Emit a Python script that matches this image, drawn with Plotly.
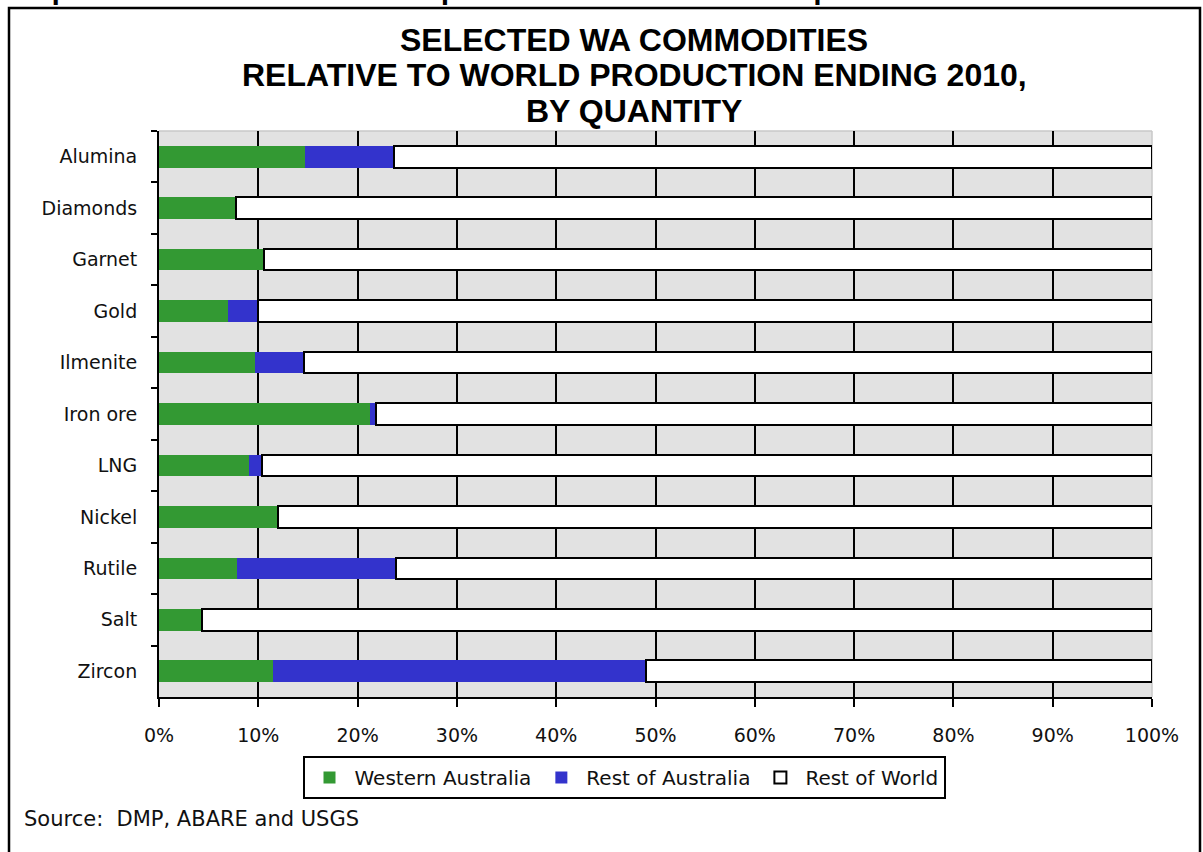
import plotly.graph_objects as go

categories = ["Alumina", "Diamonds", "Garnet", "Gold", "Ilmenite", "Iron ore",
              "LNG", "Nickel", "Rutile", "Salt", "Zircon"]
western_australia = [14.7, 7.8, 10.6, 6.9, 9.7, 21.2, 9.1, 12.0, 7.9, 4.3, 11.5]
rest_of_australia = [9.0, 0.0, 0.0, 3.1, 4.9, 0.7, 1.3, 0.0, 16.0, 0.0, 37.5]
rest_of_world = [round(100 - a - b, 1) for a, b in zip(western_australia, rest_of_australia)]
x_ticks = [0, 10, 20, 30, 40, 50, 60, 70, 80, 90, 100]
x_tick_labels = [f"{v}%" for v in x_ticks]

title_lines = ["SELECTED WA COMMODITIES",
               "RELATIVE TO WORLD PRODUCTION ENDING 2010,",
               "BY QUANTITY"]
header_text = "Graph 2: Australian commodities production relative to world production"
source_text = "Source:&nbsp; DMP, ABARE and USGS"

W, H = 1203, 852
L, R, T, B = 159, 1152, 131, 697
pw, ph = R - L, B - T


def px_x(px):
    return (px - L) / pw


def px_y(py):
    return (B - py) / ph


fig = go.Figure()
fig.add_trace(go.Bar(y=categories, x=western_australia, orientation="h",
                     name="Western Australia", width=0.42,
                     marker=dict(color="#339933", line=dict(width=0))))
fig.add_trace(go.Bar(y=categories, x=rest_of_australia, orientation="h",
                     name="Rest of Australia", width=0.42,
                     marker=dict(color="#3333CC", line=dict(width=0))))
fig.add_trace(go.Bar(y=categories, x=rest_of_world, orientation="h",
                     name="Rest of World", width=0.42,
                     marker=dict(color="#FFFFFF", line=dict(color="#000000", width=2))))

title_font = "Liberation Sans, Arial, sans-serif"
font = "DejaVu Sans, Verdana, sans-serif"

annotations = []
for i, line in enumerate(title_lines):
    annotations.append(dict(text=f"<b>{line}</b>", x=px_x(634), y=px_y(40 + 35.5 * i),
                            xref="paper", yref="paper", showarrow=False,
                            xanchor="center", yanchor="middle",
                            font=dict(family=title_font, size=32, color="#000000")))
annotations.append(dict(text=f"<b>{header_text}</b>", x=px_x(4), y=px_y(-8),
                        xref="paper", yref="paper", showarrow=False,
                        xanchor="left", yanchor="middle",
                        font=dict(family=font, size=23, color="#000000")))
annotations.append(dict(text=source_text, x=px_x(22), y=px_y(819),
                        xref="paper", yref="paper", showarrow=False,
                        xanchor="left", yanchor="middle",
                        font=dict(family=font, size=21, color="#111111")))

shapes = [
    dict(type="rect", xref="paper", yref="paper",
         x0=px_x(9), x1=px_x(1200), y0=px_y(8), y1=px_y(900),
         line=dict(color="#000000", width=2.5), fillcolor="rgba(0,0,0,0)", layer="above"),
    dict(type="line", xref="paper", yref="paper", x0=0, x1=1, y0=1, y1=1,
         line=dict(color="#C8C8C8", width=1.5), layer="below"),
    dict(type="line", xref="paper", yref="paper", x0=1, x1=1, y0=0, y1=1,
         line=dict(color="#C8C8C8", width=1.5), layer="below"),
]

fig.update_layout(
    width=W, height=H,
    margin=dict(l=L, r=W - R, t=T, b=H - B, pad=0),
    barmode="stack",
    bargap=0.58,
    paper_bgcolor="#FFFFFF",
    plot_bgcolor="#E2E2E2",
    font=dict(family=font, size=19, color="#111111"),
    showlegend=True,
    legend=dict(orientation="h", x=px_x(624), y=px_y(756), xanchor="center", yanchor="top",
                bordercolor="#000000", borderwidth=2, bgcolor="#FFFFFF",
                font=dict(family=font, size=20, color="#111111"),
                itemwidth=40, traceorder="normal", itemsizing="constant",
                tracegroupgap=0),
    annotations=annotations,
    shapes=shapes,
    xaxis=dict(range=[0, 100], tickmode="array", tickvals=x_ticks, ticktext=x_tick_labels,
               showgrid=True, gridcolor="#000000", gridwidth=1.5,
               showline=True, linecolor="#000000", linewidth=2,
               ticks="outside", ticklen=8, tickwidth=2, tickcolor="#000000",
               ticklabelstandoff=12, zeroline=False,
               tickfont=dict(family=font, size=19, color="#111111")),
    yaxis=dict(autorange="reversed", type="category", tickson="boundaries",
               showgrid=False, showline=True, linecolor="#000000", linewidth=2,
               ticks="outside", ticklen=6, tickwidth=2, tickcolor="#000000",
               ticklabelstandoff=16,
               tickfont=dict(family=font, size=19, color="#111111")),
)

fig.write_html("out.html", config={"displayModeBar": False},
               post_script="document.body.style.margin='0px';")
